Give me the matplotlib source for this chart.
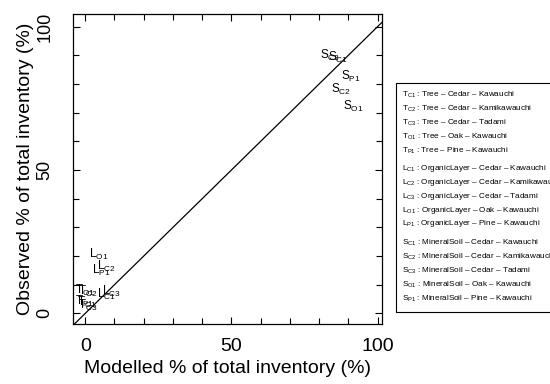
import matplotlib
matplotlib.use("Agg")
import matplotlib.pyplot as plt
from matplotlib.patches import Rectangle
from matplotlib.ticker import MultipleLocator

plt.rcParams['font.family'] = ['Liberation Sans', 'DejaVu Sans']
plt.rcParams['mathtext.fontset'] = 'custom'
plt.rcParams['mathtext.rm'] = 'Liberation Sans'
plt.rcParams['mathtext.it'] = 'Liberation Sans:italic'

# Etiquetas de los puntos: (letra, subindice)
pt_letter = ['T', 'T', 'T', 'T', 'T',
             'L', 'L', 'L', 'L', 'L',
             'S', 'S', 'S', 'S', 'S']
pt_sub = ['C1', 'C2', 'C3', 'O1', 'P1',
          'C1', 'C2', 'C3', 'O1', 'P1',
          'C1', 'C2', 'C3', 'O1', 'P1']
# Modelado (%) vs observado (%)
modelled = [0.6, 0.9, 0.9, -0.1, -0.4,
            7.1, 7.4, 8.8, 4.7, 5.4,
            86.6, 87.6, 83.9, 91.7, 91.0]
observed = [3.9, 7.8, 2.9, 8.1, 4.3,
            6.7, 16.5, 7.8, 20.5, 15.1,
            89.4, 78.1, 90.1, 72.3, 82.6]

# Leyenda
leg_comp = ['Tree', 'OrganicLayer', 'MineralSoil']
leg_species = ['Cedar', 'Cedar', 'Cedar', 'Oak', 'Pine']
leg_site = ['Kawauchi', 'Kamikawauchi', 'Tadami', 'Kawauchi', 'Kawauchi']

fig = plt.figure(figsize=(5.5, 3.84), dpi=100)
ax = fig.add_axes([0.1327, 0.1563, 0.5618, 0.8072])

ax.set_xlim(-4.2, 101.5)
ax.set_ylim(-3.7, 104.4)

# linea 1:1
ax.axline((0, 0), slope=1, color='black', linewidth=0.9)

for l, s, x, y in zip(pt_letter, pt_sub, modelled, observed):
    ax.text(x, y, l + r'$_{\mathrm{' + s + '}}$', fontsize=8.5,
            ha='center', va='center', color='black')

ax.xaxis.set_major_locator(MultipleLocator(50))
ax.yaxis.set_major_locator(MultipleLocator(50))
ax.xaxis.set_minor_locator(MultipleLocator(10))
ax.yaxis.set_minor_locator(MultipleLocator(10))
ax.tick_params(which='both', direction='in', top=True, right=True, width=0.8)
ax.tick_params(which='major', length=5)
ax.tick_params(which='minor', length=4)
ax.tick_params(axis='x', which='major', labelsize=14, pad=10)
ax.tick_params(axis='y', which='major', labelsize=13, pad=14)
for lab in ax.get_yticklabels():
    lab.set_rotation(90)
    lab.set_va('center')

ax.set_xlabel('Modelled % of total inventory (%)', fontsize=14, labelpad=4)
ax.set_ylabel('Observed % of total inventory (%)', fontsize=14, labelpad=2)
for sp in ax.spines.values():
    sp.set_linewidth(0.9)

# caja de la leyenda
fig.add_artist(Rectangle((396 / 550, 1 - 312 / 384), 0.35, (312 - 83) / 384,
                         transform=fig.transFigure, fill=False,
                         edgecolor='black', linewidth=0.8))
letters = ['T', 'L', 'S']
y0 = [95, 168.3, 243.3]
for g in range(3):
    for i in range(5):
        y = y0[g] + i * 13.9
        txt = (letters[g] + r'$_{\mathrm{' + pt_sub[i] + '}}$' + ' : ' +
               leg_comp[g] + ' \u2013 ' + leg_species[i] + ' \u2013 ' + leg_site[i])
        fig.text(402 / 550, 1 - y / 384, txt, fontsize=5.9, ha='left', va='center')

fig.savefig('out.png', dpi=100)
